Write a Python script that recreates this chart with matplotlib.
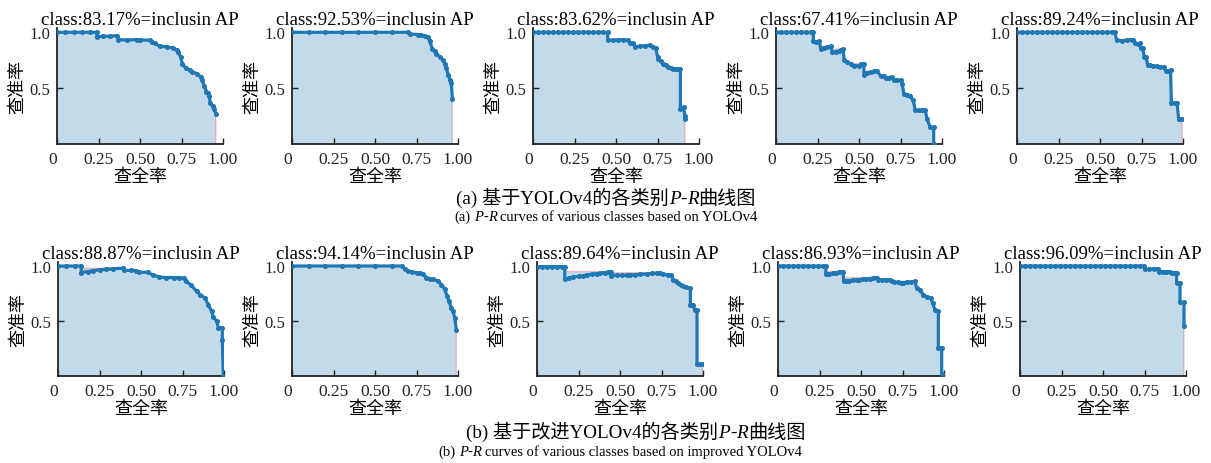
import numpy as np
import matplotlib
matplotlib.use("Agg")
import matplotlib.pyplot as plt

W, H = 1211, 464

# ---------------- data ----------------
ap_labels_a = ["83.17%", "92.53%", "83.62%", "67.41%", "89.24%"]
ap_labels_b = ["88.87%", "94.14%", "89.64%", "86.93%", "96.09%"]

rec_a1 = [0.0, 0.05, 0.10, 0.15, 0.20, 0.24, 0.24, 0.28, 0.32, 0.36, 0.37, 0.42, 0.48, 0.50, 0.56,
          0.57, 0.59, 0.62, 0.66, 0.70, 0.72, 0.73, 0.745, 0.755, 0.775, 0.80, 0.815, 0.845, 0.865,
          0.875, 0.887, 0.90, 0.91, 0.917, 0.923, 0.937, 0.947, 0.957]
prec_a1 = [1.0, 1.0, 1.0, 1.0, 1.0, 1.0, 0.96, 0.965, 0.965, 0.97, 0.935, 0.93, 0.935, 0.93, 0.93,
           0.915, 0.90, 0.875, 0.87, 0.86, 0.845, 0.82, 0.78, 0.72, 0.68, 0.66, 0.645, 0.63, 0.60,
           0.57, 0.52, 0.47, 0.46, 0.43, 0.37, 0.34, 0.31, 0.27]

rec_a2 = [0.0, 0.1, 0.2, 0.3, 0.4, 0.5, 0.6, 0.70, 0.71, 0.76, 0.78, 0.80, 0.82, 0.83, 0.846, 0.86,
          0.87, 0.89, 0.91, 0.92, 0.93, 0.94, 0.954, 0.96, 0.966]
prec_a2 = [1.0, 1.0, 1.0, 1.0, 1.0, 1.0, 1.0, 1.0, 0.985, 0.98, 0.975, 0.965, 0.955, 0.92, 0.85, 0.83,
           0.81, 0.78, 0.75, 0.72, 0.68, 0.62, 0.57, 0.55, 0.40]

rec_a3 = [0.0, 0.03, 0.06, 0.09, 0.12, 0.15, 0.18, 0.21, 0.24, 0.27, 0.30, 0.33, 0.36, 0.39, 0.42, 0.45,
          0.45, 0.48, 0.51, 0.54, 0.57, 0.585, 0.60, 0.615, 0.645, 0.675, 0.705, 0.72, 0.74, 0.75,
          0.755, 0.77, 0.785, 0.80, 0.815, 0.83, 0.845, 0.86, 0.875, 0.888, 0.888, 0.90, 0.907,
          0.915, 0.915]
prec_a3 = [1.0, 1.0, 1.0, 1.0, 1.0, 1.0, 1.0, 1.0, 1.0, 1.0, 1.0, 1.0, 1.0, 1.0, 1.0, 1.0,
           0.93, 0.93, 0.93, 0.935, 0.93, 0.905, 0.90, 0.87, 0.875, 0.88, 0.885, 0.87, 0.86, 0.78,
           0.76, 0.74, 0.72, 0.71, 0.69, 0.68, 0.675, 0.67, 0.67, 0.67, 0.31, 0.32, 0.33,
           0.25, 0.22]

rec_a4 = [0.0, 0.03, 0.06, 0.09, 0.12, 0.15, 0.18, 0.21, 0.225, 0.225, 0.24, 0.26, 0.27, 0.29, 0.31,
          0.33, 0.34, 0.36, 0.38, 0.39, 0.405, 0.41, 0.43, 0.45, 0.47, 0.50, 0.51, 0.53, 0.53, 0.55,
          0.57, 0.59, 0.61, 0.63, 0.65, 0.66, 0.68, 0.70, 0.71, 0.73, 0.75, 0.76, 0.77, 0.79, 0.81,
          0.826, 0.84, 0.86, 0.88, 0.90, 0.91, 0.93, 0.95, 0.95]
prec_a4 = [1.0, 1.0, 1.0, 1.0, 1.0, 1.0, 1.0, 1.0, 1.0, 0.92, 0.915, 0.92, 0.85, 0.86, 0.87,
           0.875, 0.82, 0.825, 0.83, 0.845, 0.85, 0.75, 0.73, 0.72, 0.70, 0.70, 0.715, 0.72, 0.62, 0.64,
           0.645, 0.65, 0.65, 0.61, 0.61, 0.59, 0.595, 0.60, 0.57, 0.575, 0.57, 0.54, 0.45, 0.44, 0.43,
           0.39, 0.30, 0.30, 0.30, 0.30, 0.22, 0.15, 0.15, 0.0]

rec_a5 = [0.0, 0.03, 0.06, 0.09, 0.12, 0.15, 0.18, 0.21, 0.24, 0.27, 0.30, 0.33, 0.36, 0.39, 0.42,
          0.45, 0.48, 0.51, 0.54, 0.57, 0.59, 0.60, 0.63, 0.66, 0.69, 0.70, 0.71, 0.73, 0.74, 0.745,
          0.757, 0.767, 0.777, 0.787, 0.80, 0.82, 0.846, 0.86, 0.885, 0.895, 0.91, 0.925, 0.93, 0.95,
          0.964, 0.974, 0.99, 0.995]
prec_a5 = [1.0, 1.0, 1.0, 1.0, 1.0, 1.0, 1.0, 1.0, 1.0, 1.0, 1.0, 1.0, 1.0, 1.0, 1.0,
           1.0, 1.0, 1.0, 1.0, 1.0, 1.0, 0.93, 0.925, 0.93, 0.935, 0.935, 0.90, 0.895, 0.90, 0.86,
           0.86, 0.78, 0.78, 0.71, 0.705, 0.70, 0.695, 0.69, 0.685, 0.655, 0.655, 0.66, 0.37, 0.37,
           0.37, 0.22, 0.22, 0.22]

rec_b1 = [0.0, 0.05, 0.10, 0.14, 0.14, 0.18, 0.21, 0.25, 0.29, 0.33, 0.39, 0.40, 0.44, 0.47, 0.49,
          0.54, 0.57, 0.61, 0.65, 0.70, 0.73, 0.76, 0.77, 0.80, 0.835, 0.855, 0.885, 0.905, 0.925,
          0.935, 0.955, 0.966, 0.99, 0.99, 0.996]
prec_b1 = [1.0, 1.0, 1.0, 1.0, 0.94, 0.95, 0.958, 0.965, 0.97, 0.975, 0.98, 0.96, 0.96, 0.958, 0.943,
           0.943, 0.92, 0.90, 0.895, 0.895, 0.895, 0.89, 0.86, 0.83, 0.77, 0.74, 0.71, 0.65, 0.59,
           0.54, 0.50, 0.44, 0.44, 0.33, 0.0]

rec_b2 = [0.0, 0.1, 0.2, 0.3, 0.4, 0.5, 0.6, 0.66, 0.68, 0.70, 0.72, 0.75, 0.77, 0.79, 0.81, 0.83,
          0.85, 0.88, 0.90, 0.92, 0.934, 0.946, 0.96, 0.97, 0.98, 0.99]
prec_b2 = [1.0, 1.0, 1.0, 1.0, 1.0, 1.0, 1.0, 1.0, 0.975, 0.955, 0.945, 0.94, 0.935, 0.925, 0.895, 0.885,
           0.88, 0.865, 0.83, 0.79, 0.73, 0.68, 0.62, 0.59, 0.53, 0.42]

rec_b3 = [0.0, 0.03, 0.06, 0.09, 0.12, 0.15, 0.167, 0.167, 0.19, 0.217, 0.25, 0.28, 0.30, 0.33, 0.36,
          0.38, 0.41, 0.43, 0.448, 0.448, 0.48, 0.51, 0.54, 0.56, 0.59, 0.62, 0.66, 0.69, 0.72, 0.74,
          0.76, 0.79, 0.81, 0.82, 0.835, 0.85, 0.865, 0.88, 0.90, 0.924, 0.924, 0.94, 0.95, 0.964,
          0.964, 0.98, 1.0]
prec_b3 = [0.995, 0.995, 0.995, 0.995, 0.995, 0.995, 0.995, 0.88, 0.89, 0.90, 0.905, 0.91, 0.92, 0.925, 0.93,
           0.935, 0.94, 0.945, 0.95, 0.91, 0.915, 0.915, 0.915, 0.918, 0.92, 0.925, 0.928, 0.932, 0.936, 0.94,
           0.925, 0.92, 0.915, 0.875, 0.86, 0.845, 0.83, 0.82, 0.807, 0.80, 0.65, 0.645, 0.60, 0.60,
           0.105, 0.105, 0.105]

rec_b4 = [0.0, 0.03, 0.06, 0.09, 0.12, 0.15, 0.18, 0.21, 0.24, 0.27, 0.288, 0.288, 0.31, 0.33, 0.352,
          0.37, 0.392, 0.396, 0.41, 0.43, 0.45, 0.473, 0.49, 0.51, 0.53, 0.553, 0.575, 0.594, 0.604,
          0.625, 0.65, 0.674, 0.684, 0.70, 0.72, 0.74, 0.755, 0.78, 0.80, 0.825, 0.835, 0.855, 0.875,
          0.895, 0.92, 0.932, 0.946, 0.966, 0.966, 0.986, 0.986]
prec_b4 = [1.0, 1.0, 1.0, 1.0, 1.0, 1.0, 1.0, 1.0, 1.0, 1.0, 1.0, 0.93, 0.93, 0.935, 0.94,
           0.945, 0.95, 0.86, 0.865, 0.868, 0.87, 0.873, 0.876, 0.879, 0.882, 0.886, 0.89, 0.895, 0.875,
           0.875, 0.876, 0.876, 0.86, 0.855, 0.852, 0.85, 0.85, 0.853, 0.856, 0.86, 0.80, 0.78, 0.74,
           0.72, 0.71, 0.66, 0.60, 0.59, 0.256, 0.256, 0.015]

rec_b5 = [0.0, 0.03, 0.06, 0.09, 0.12, 0.15, 0.18, 0.21, 0.24, 0.27, 0.30, 0.33, 0.36, 0.39, 0.42,
          0.45, 0.48, 0.51, 0.54, 0.57, 0.60, 0.63, 0.66, 0.69, 0.72, 0.747, 0.753, 0.78, 0.805, 0.833,
          0.839, 0.86, 0.88, 0.904, 0.914, 0.93, 0.944, 0.944, 0.964, 0.964, 0.988, 0.988]
prec_b5 = [1.0, 1.0, 1.0, 1.0, 1.0, 1.0, 1.0, 1.0, 1.0, 1.0, 1.0, 1.0, 1.0, 1.0, 1.0,
           1.0, 1.0, 1.0, 1.0, 1.0, 1.0, 1.0, 1.0, 1.0, 1.0, 1.0, 0.97, 0.972, 0.975, 0.975,
           0.95, 0.95, 0.948, 0.95, 0.94, 0.94, 0.94, 0.843, 0.843, 0.67, 0.67, 0.452]

recs_a = [rec_a1, rec_a2, rec_a3, rec_a4, rec_a5]
precs_a = [prec_a1, prec_a2, prec_a3, prec_a4, prec_a5]
recs_b = [rec_b1, rec_b2, rec_b3, rec_b4, rec_b5]
precs_b = [prec_b1, prec_b2, prec_b3, prec_b4, prec_b5]

x_ticks = [0, 0.25, 0.5, 0.75, 1.0]
x_ticklabels = ["0", "0.25", "0.50", "0.75", "1.00"]
y_ticks = [0.5, 1.0]
y_ticklabels = ["0.5", "1.0"]

# ---------------- styling ----------------
LATIN = "Liberation Serif"
CJK = "Noto Sans CJK SC"
MIX = [LATIN, CJK]
plt.rcParams["font.family"] = MIX

fig = plt.figure(figsize=(W / 100, H / 100), dpi=100)

lefts_a = [57, 292, 533, 776, 1017]
lefts_b = [58, 292, 537, 778, 1020]
ax_w = 166
row_geom = [  # (bottom px from top, px per unit)
    (145, 111.7),
    (377, 110.0),
]
YTOP = 1.04
BLUE = "#1f77b4"


def draw_panel(ax, rec, prec, ap):
    rec = np.asarray(rec, float)
    prec = np.asarray(prec, float)
    # interpolated (monotone) precision envelope used for the AP area
    env = np.maximum.accumulate(prec[::-1])[::-1]
    fx = np.concatenate([rec, [rec[-1]]])
    fy = np.concatenate([env, [0.0]])
    ax.fill_between(fx, 0, fy, facecolor=BLUE, alpha=0.27, linewidth=0)
    ax.plot(fx, fy, color=(1, 0, 0, 0.22), lw=1.0, zorder=2)
    ax.plot(rec, prec, "-o", color=BLUE, lw=2.3, ms=2.6, zorder=3)
    ax.set_xlim(0, 1.0)
    ax.set_ylim(0, YTOP)
    ax.set_xticks(x_ticks)
    ax.set_xticklabels(x_ticklabels, family=LATIN, fontsize=12.5)
    ax.set_yticks(y_ticks)
    ax.set_yticklabels(y_ticklabels, family=LATIN, fontsize=12)
    ax.get_xticklabels()[0].set_ha("right")
    ax.tick_params(direction="in", length=4, width=1, pad=5, colors="#222222")
    for s in ("top", "right"):
        ax.spines[s].set_visible(False)
    for s in ("left", "bottom"):
        ax.spines[s].set_linewidth(1.3)
        ax.spines[s].set_color("#222222")
    ax.set_title("class:%s=inclusin AP" % ap, family=LATIN, fontsize=13.5, pad=2.5)
    ax.set_xlabel("查全率", family=CJK, fontsize=13, labelpad=0)
    ax.set_ylabel("查准率", family=CJK, fontsize=13, labelpad=2)


for r, (lefts, recs, precs, aps) in enumerate([(lefts_a, recs_a, precs_a, ap_labels_a),
                                                 (lefts_b, recs_b, precs_b, ap_labels_b)]):
    bot_px, ppu = row_geom[r]
    h_px = ppu * YTOP
    for i in range(5):
        ax = fig.add_axes([lefts[i] / W, (H - bot_px) / H, ax_w / W, h_px / H])
        draw_panel(ax, recs[i], precs[i], aps[i])


# ---------------- captions with italic P / R ----------------
def rich_line(y_px, pieces, size, cx_px=606):
    texts, gaps = [], []
    for s, style, gap in pieces:
        t = fig.text(0, 1 - y_px / H, s, fontsize=size, family=MIX, style=style,
                     ha="left", va="baseline")
        texts.append(t)
        gaps.append(gap * size * 100 / 72)
    fig.canvas.draw()
    rend = fig.canvas.get_renderer()
    widths = [t.get_window_extent(rend).width for t in texts]
    total = sum(widths) + sum(gaps)
    x = cx_px - total / 2
    for t, w, g in zip(texts, widths, gaps):
        t.set_x(x / W)
        x += w + g


cn_a = [("(a) 基于YOLOv4的各类别", "normal", 0.0), ("P", "italic", 0.0), ("-", "normal", 0.0),
        ("R", "italic", 0.0), ("曲线图", "normal", 0.0)]
en_a = [("(a)", "normal", 0.25), ("P", "italic", 0.0), ("-", "normal", 0.0),
        ("R", "italic", 0.25), ("curves of various classes based on YOLOv4", "normal", 0.0)]
cn_b = [("(b) 基于改进YOLOv4的各类别", "normal", 0.0), ("P", "italic", 0.0), ("-", "normal", 0.0),
        ("R", "italic", 0.0), ("曲线图", "normal", 0.0)]
en_b = [("(b)", "normal", 0.25), ("P", "italic", 0.0), ("-", "normal", 0.0),
        ("R", "italic", 0.25), ("curves of various classes based on improved YOLOv4", "normal", 0.0)]

rich_line(204, cn_a, 13.8)
rich_line(221, en_a, 10.5)
rich_line(438, cn_b, 13.8, cx_px=636)
rich_line(456, en_b, 10.5, cx_px=620)

fig.savefig("out.png", dpi=100)
